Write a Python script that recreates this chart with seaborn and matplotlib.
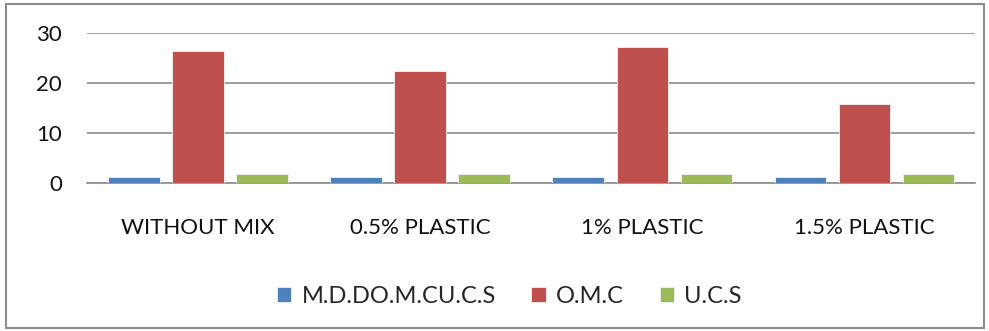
import matplotlib
matplotlib.use("Agg")
import matplotlib.pyplot as plt
import seaborn as sns
import pandas as pd
from matplotlib.patches import Rectangle

# Soil test results per mix
categories = ["WITHOUT MIX", "0.5% PLASTIC", "1% PLASTIC", "1.5% PLASTIC"]
series_names = ["M.D.DO.M.CU.C.S", "O.M.C", "U.C.S"]
mdd = [1.2, 1.2, 1.2, 1.2]
omc = [26.5, 22.4, 27.2, 15.8]
ucs = [1.9, 1.9, 1.9, 1.9]
y_ticks = [0, 10, 20, 30]

colors = ["#4F81BD", "#C0504D", "#9BBB59"]

rows = []
for name, vals in zip(series_names, [mdd, omc, ucs]):
    for cat, v in zip(categories, vals):
        rows.append({"category": cat, "series": name, "value": v})
df = pd.DataFrame(rows)

sns.set_style("white")
plt.rcParams["font.family"] = ["Lato", "DejaVu Sans"]

fig = plt.figure(figsize=(9.89, 3.31), dpi=100)
ax = fig.add_axes([0.088, 0.447, 0.898, 0.453])

sns.barplot(data=df, x="category", y="value", hue="series",
            order=categories, hue_order=series_names,
            palette=colors, saturation=1, width=0.865, gap=0.2,
            edgecolor="#f2f2f2", linewidth=0.6, ax=ax, zorder=3)

ax.set_ylim(0, 30)
ax.set_xlim(-0.5, 3.5)
ax.set_yticks(y_ticks)
ax.yaxis.grid(True, color="#8c8c8c", linewidth=1.2, zorder=0)
ax.set_axisbelow(True)
for s in ["left", "right", "top"]:
    ax.spines[s].set_visible(False)
ax.spines["bottom"].set_color("#8c8c8c")
ax.spines["bottom"].set_linewidth(1.2)
ax.set_xlabel("")
ax.set_ylabel("")
ax.tick_params(axis="y", length=0, pad=18, labelsize=16, colors="#111111")
ax.tick_params(axis="x", length=0, pad=25, labelsize=16, colors="#111111")

handles, labels = ax.get_legend_handles_labels()
ax.legend_.remove()
fig.legend(handles, labels, loc="center", bbox_to_anchor=(0.515, 0.105),
           ncol=3, frameon=False, fontsize=17, handlelength=0.6,
           handleheight=0.6, handletextpad=0.45, columnspacing=1.5)

# outer chart border
fig.patches.append(Rectangle((0.006, 0.009), 0.989, 0.979, transform=fig.transFigure,
                             fill=False, edgecolor="#8c8c8c", linewidth=1.5))

fig.savefig("out.png", dpi=100)
